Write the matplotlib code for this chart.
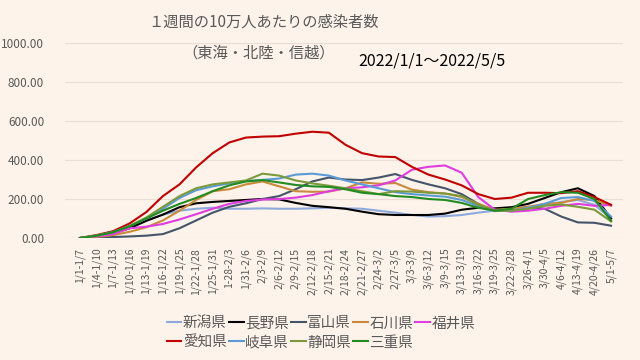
import matplotlib
matplotlib.use("Agg")
import matplotlib.pyplot as plt

plt.rcParams["font.family"] = ["Noto Sans CJK JP", "DejaVu Sans"]

# ── Data (per 100k, 7-day window) ──────────────────────────────────────────────
PERIODS = [
    "1/1-1/7", "1/4-1/10", "1/7-1/13", "1/10-1/16", "1/13-1/19", "1/16-1/22",
    "1/19-1/25", "1/22-1/28", "1/25-1/31", "1-28-2/3", "1/31-2/6", "2/3-2/9",
    "2/6-2/12", "2/9-2/15", "2/12-2/18", "2/15-2/21", "2/18-2/24", "2/21-2/27",
    "2/24-3/2", "2/27-3/5", "3/3-3/9", "3/6-3/12", "3/9-3/15", "3/13-3/19",
    "3/16-3/22", "3/19-3/25", "3/22-3/28", "3/26-4/1", "3/30-4/5", "4/6-4/12",
    "4/13-4/19", "4/20-4/26", "5/1-5/7",
]

niigata  = [0, 12, 30, 55, 90, 120, 140, 150, 155, 150, 150, 152, 150, 150, 152, 155, 152,
            150, 140, 130, 118, 110, 112, 118, 130, 140, 145, 150, 170, 185, 195, 170, 100]
nagano   = [0, 10, 25, 50, 88, 120, 158, 178, 185, 190, 195, 200, 198, 180, 165, 158, 150,
            135, 122, 118, 118, 118, 125, 145, 155, 152, 158, 175, 205, 235, 255, 215, 100]
toyama   = [0, 3, 5, 8, 12, 20, 50, 90, 130, 160, 178, 200, 215, 250, 290, 310, 300,
            297, 310, 328, 298, 275, 255, 225, 175, 138, 148, 160, 150, 110, 80, 78, 63]
ishikawa = [0, 5, 15, 32, 55, 90, 140, 195, 240, 250, 275, 290, 265, 240, 237, 238, 255,
            285, 278, 282, 248, 235, 228, 210, 175, 145, 150, 160, 175, 180, 200, 195, 165]
fukui    = [0, 8, 20, 50, 58, 72, 95, 122, 150, 175, 190, 197, 200, 207, 220, 240, 255,
            260, 270, 295, 350, 365, 372, 335, 210, 145, 135, 140, 150, 165, 175, 165, 170]
aichi    = [0, 15, 35, 75, 133, 215, 275, 362, 435, 490, 515, 520, 522, 535, 545, 540, 478,
            435, 418, 415, 365, 325, 300, 270, 225, 200, 207, 232, 232, 230, 240, 210, 170]
gifu     = [0, 12, 30, 62, 100, 150, 205, 245, 265, 280, 292, 298, 305, 325, 330, 320, 295,
            275, 255, 235, 225, 218, 212, 195, 165, 140, 140, 155, 175, 205, 210, 190, 110]
shizuoka = [0, 12, 30, 62, 105, 160, 215, 255, 275, 285, 295, 330, 320, 295, 280, 268, 255,
            240, 225, 240, 238, 232, 228, 215, 170, 140, 140, 150, 165, 172, 160, 145, 85]
mie      = [0, 12, 30, 60, 100, 140, 175, 205, 240, 270, 290, 297, 285, 272, 265, 262, 250,
            232, 225, 215, 210, 200, 195, 180, 155, 140, 150, 200, 220, 235, 232, 200, 88]

SERIES = [
    ("新潟県", niigata,  "#8EA9DB"),
    ("長野県", nagano,   "#000000"),
    ("富山県", toyama,   "#44546A"),
    ("石川県", ishikawa, "#C98A3A"),
    ("福井県", fukui,    "#E03CE0"),
    ("愛知県", aichi,    "#C00000"),
    ("岐阜県", gifu,     "#5B9BD5"),
    ("静岡県", shizuoka, "#7A9A3C"),
    ("三重県", mie,      "#228B22"),
]

BG   = "#FDF3EA"
GREY = "#595959"

fig = plt.figure(figsize=(6.4, 3.6), dpi=100, facecolor=BG)
ax = fig.add_axes([65 / 640, 1 - 238 / 360, 558 / 640, 195 / 360], facecolor=BG)

x = list(range(len(PERIODS)))
lines = {}
for name, vals, col in SERIES:
    lines[name], = ax.plot(x, vals, color=col, lw=1.5, label=name)

ax.set_ylim(0, 1000)
ax.set_yticks([0, 200, 400, 600, 800, 1000])
ax.set_yticklabels([f"{v:.2f}" for v in [0, 200, 400, 600, 800, 1000]])
ax.set_xlim(-0.9, len(PERIODS) - 1 + 0.72)
ax.set_xticks(x)
ax.set_xticklabels(PERIODS, rotation=90)
ax.tick_params(axis="y", length=0, pad=15, labelsize=8.5, labelcolor=GREY)
ax.tick_params(axis="x", length=0, pad=7, labelsize=7.5, labelcolor=GREY)
ax.grid(True, axis="y", color="#EBDDD3", lw=0.8)
ax.set_axisbelow(True)
for s in ax.spines.values():
    s.set_visible(False)

fig.text(263 / 640, 1 - 22 / 360, "１週間の10万人あたりの感染者数",
         ha="center", va="center", fontsize=11, color=GREY)
fig.text(259 / 640, 1 - 53 / 360, "（東海・北陸・信越）",
         ha="center", va="center", fontsize=11, color=GREY)
fig.text(358 / 640, 1 - 61 / 360, "2022/1/1～2022/5/5",
         ha="left", va="center", fontsize=11.5, color="black")

# legend filled column-wise: interleave the two rows
row1 = ["新潟県", "長野県", "富山県", "石川県", "福井県"]
row2 = ["愛知県", "岐阜県", "静岡県", "三重県"]
order = []
for i in range(5):
    order.append(row1[i])
    if i < len(row2):
        order.append(row2[i])
leg = fig.legend([lines[n] for n in order], order, loc="center",
                 bbox_to_anchor=(321 / 640, 1 - 333 / 360), ncol=5,
                 frameon=False, fontsize=10.5, handlelength=1.0, handletextpad=0.1,
                 columnspacing=0.15, labelspacing=0.35)
for t in leg.get_texts():
    t.set_color(GREY)

fig.savefig("out.png", dpi=100, facecolor=BG)
